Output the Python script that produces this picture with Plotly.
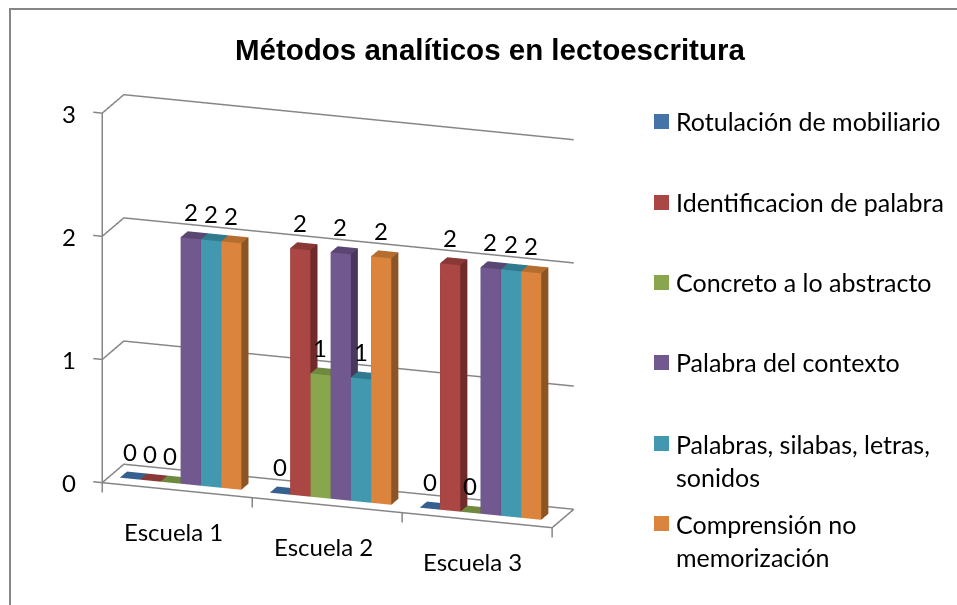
import math
import plotly.graph_objects as go

title = "Métodos analíticos en lectoescritura"
categories = ["Escuela 1", "Escuela 2", "Escuela 3"]
series_names = ["Rotulación de mobiliario", "Identificacion de palabra", "Concreto a lo abstracto",
                "Palabra del contexto", "Palabras, silabas, letras,<br>sonidos", "Comprensión no<br>memorización"]
values = [
    [0, 0, 0],
    [0, 2, 2],
    [0, 1, 0],
    [2, 2, 2],
    [2, 1, 2],
    [2, 2, 2],
]
front_colors = ["#4572A7", "#AA4643", "#89A54E", "#71588F", "#4198AF", "#DB843D"]
top_colors = ["#35608F", "#8A3836", "#6F8A3E", "#5A4673", "#2F7A8F", "#B56D30"]
side_colors = ["#2E4F78", "#6F2A29", "#5A7033", "#48385E", "#296A7C", "#8C5523"]
y_ticks = [0, 1, 2, 3]

GRID = "#868686"
FONT = "Lato"
BAR_W = 0.135
MARGIN = 0.07
Y0, Y1 = 0.33, 0.66


def box(xa, xb, ya, yb, h):
    xs = [xa, xb, xb, xa, xa, xb, xb, xa]
    ys = [ya, ya, yb, yb, ya, ya, yb, yb]
    zs = [0, 0, 0, 0, h, h, h, h]
    return xs, ys, zs


FACES = [
    (0, 1, 5, "f"), (0, 5, 4, "f"),
    (1, 2, 6, "s"), (1, 6, 5, "s"),
    (2, 3, 7, "s"), (2, 7, 6, "s"),
    (3, 0, 4, "s"), (3, 4, 7, "s"),
    (4, 5, 6, "t"), (4, 6, 7, "t"),
    (0, 1, 2, "t"), (0, 2, 3, "t"),
]

fig = go.Figure()


def line(xs, ys, zs):
    fig.add_trace(go.Scatter3d(x=xs, y=ys, z=zs, mode="lines", line=dict(color=GRID, width=3),
                               hoverinfo="skip", showlegend=False))


for t in y_ticks:
    line([-0.06, 0, 0, 3], [0, 0, 1, 1], [t, t, t, t])
line([0, 0], [0, 0], [0, y_ticks[-1]])
line([0, 3, 3], [0, 0, 1], [0, 0, 0])
for i in range(len(categories) + 1):
    line([i, i], [0, 0], [0, -0.08])

annotations = []
for s, name in enumerate(series_names):
    X, Y, Z, I, J, K, FC = [], [], [], [], [], [], []
    for c, v in enumerate(values[s]):
        xa = c + MARGIN + s * BAR_W
        xs, ys, zs = box(xa, xa + BAR_W, Y0, Y1, v)
        n = len(X)
        X += xs; Y += ys; Z += zs
        for a, b, d, kind in FACES:
            I.append(n + a); J.append(n + b); K.append(n + d)
            col = front_colors[s] if (kind == "f" and v > 0) else side_colors[s] if (kind == "s" and v > 0) else top_colors[s]
            FC.append(col)
        annotations.append(dict(x=xa + BAR_W / 2, y=Y0, z=v, text=str(v), showarrow=False, yshift=27,
                                xshift=0, font=dict(family=FONT, size=24, color="black")))
    fig.add_trace(go.Mesh3d(x=X, y=Y, z=Z, i=I, j=J, k=K, facecolor=FC, flatshading=True,
                            lighting=dict(ambient=1, diffuse=0, specular=0, fresnel=0, roughness=1),
                            hoverinfo="skip", showlegend=False, name=name.replace("<br>", " ")))

for t in y_ticks:
    annotations.append(dict(x=0, y=0, z=t, text=str(t), showarrow=False, xshift=-33,
                            font=dict(family=FONT, size=24, color="black")))
for c, name in enumerate(categories):
    annotations.append(dict(x=c + 0.5, y=0, z=0, text=name, showarrow=False, yshift=-41, xshift=-4,
                            font=dict(family=FONT, size=24, color="black")))

phi = math.radians(18.9)
theta = math.radians(17)
d = 1.03
shift_z = 0.045
eye = dict(x=d * math.sin(phi) * math.cos(theta), y=-d * math.cos(phi) * math.cos(theta), z=d * math.sin(theta) + shift_z)

none_axis = dict(visible=False, showgrid=False, zeroline=False, showspikes=False, showbackground=False)
fig.update_layout(
    width=957, height=605, margin=dict(l=0, r=0, t=0, b=0), paper_bgcolor="white",
    scene=dict(
        domain=dict(x=[0, 0.6934], y=[0, 1]),
        xaxis=dict(range=[-0.1, 3.02], **none_axis),
        yaxis=dict(range=[-0.02, 1.02], **none_axis),
        zaxis=dict(range=[-0.1, 3.02], **none_axis),
        aspectmode="manual", aspectratio=dict(x=1.635, y=0.229, z=1.3285),
        camera=dict(eye=eye, center=dict(x=0, y=0, z=shift_z), up=dict(x=0, y=0, z=1),
                    projection=dict(type="orthographic")),
        annotations=annotations,
    ),
)

legend_y = [121.5, 202.5, 282.5, 362.5, 443.5, 523.5]
text_y = [121, 202, 282, 362, 460, 540]
shapes = [dict(type="rect", xref="paper", yref="paper", x0=10 / 957, x1=1.2, y0=1 - 9 / 605, y1=-0.2,
               line=dict(color="#868686", width=2), fillcolor="rgba(0,0,0,0)", layer="above")]
layout_ann = [dict(text=f"<b>{title}</b>", xref="paper", yref="paper", x=490 / 957, y=1 - 50 / 605, showarrow=False,
                   xanchor="center", yanchor="middle",
                   font=dict(family="Liberation Sans", size=29.5, color="black"))]
for name, col, ly, ty in zip(series_names, front_colors, legend_y, text_y):
    shapes.append(dict(type="rect", xref="paper", yref="paper", x0=654 / 957, x1=669 / 957,
                       y0=1 - (ly - 7.5) / 605, y1=1 - (ly + 7.5) / 605, fillcolor=col, line=dict(width=0)))
    layout_ann.append(dict(text=name, xref="paper", yref="paper", x=674 / 957, y=1 - ty / 605, xanchor="left",
                           yanchor="middle", align="left", showarrow=False,
                           font=dict(family=FONT, size=25, color="black")))
fig.update_layout(shapes=shapes, annotations=layout_ann)
fig.write_html("out.html", config=dict(displayModeBar=False), post_script="document.body.style.margin='0';")
